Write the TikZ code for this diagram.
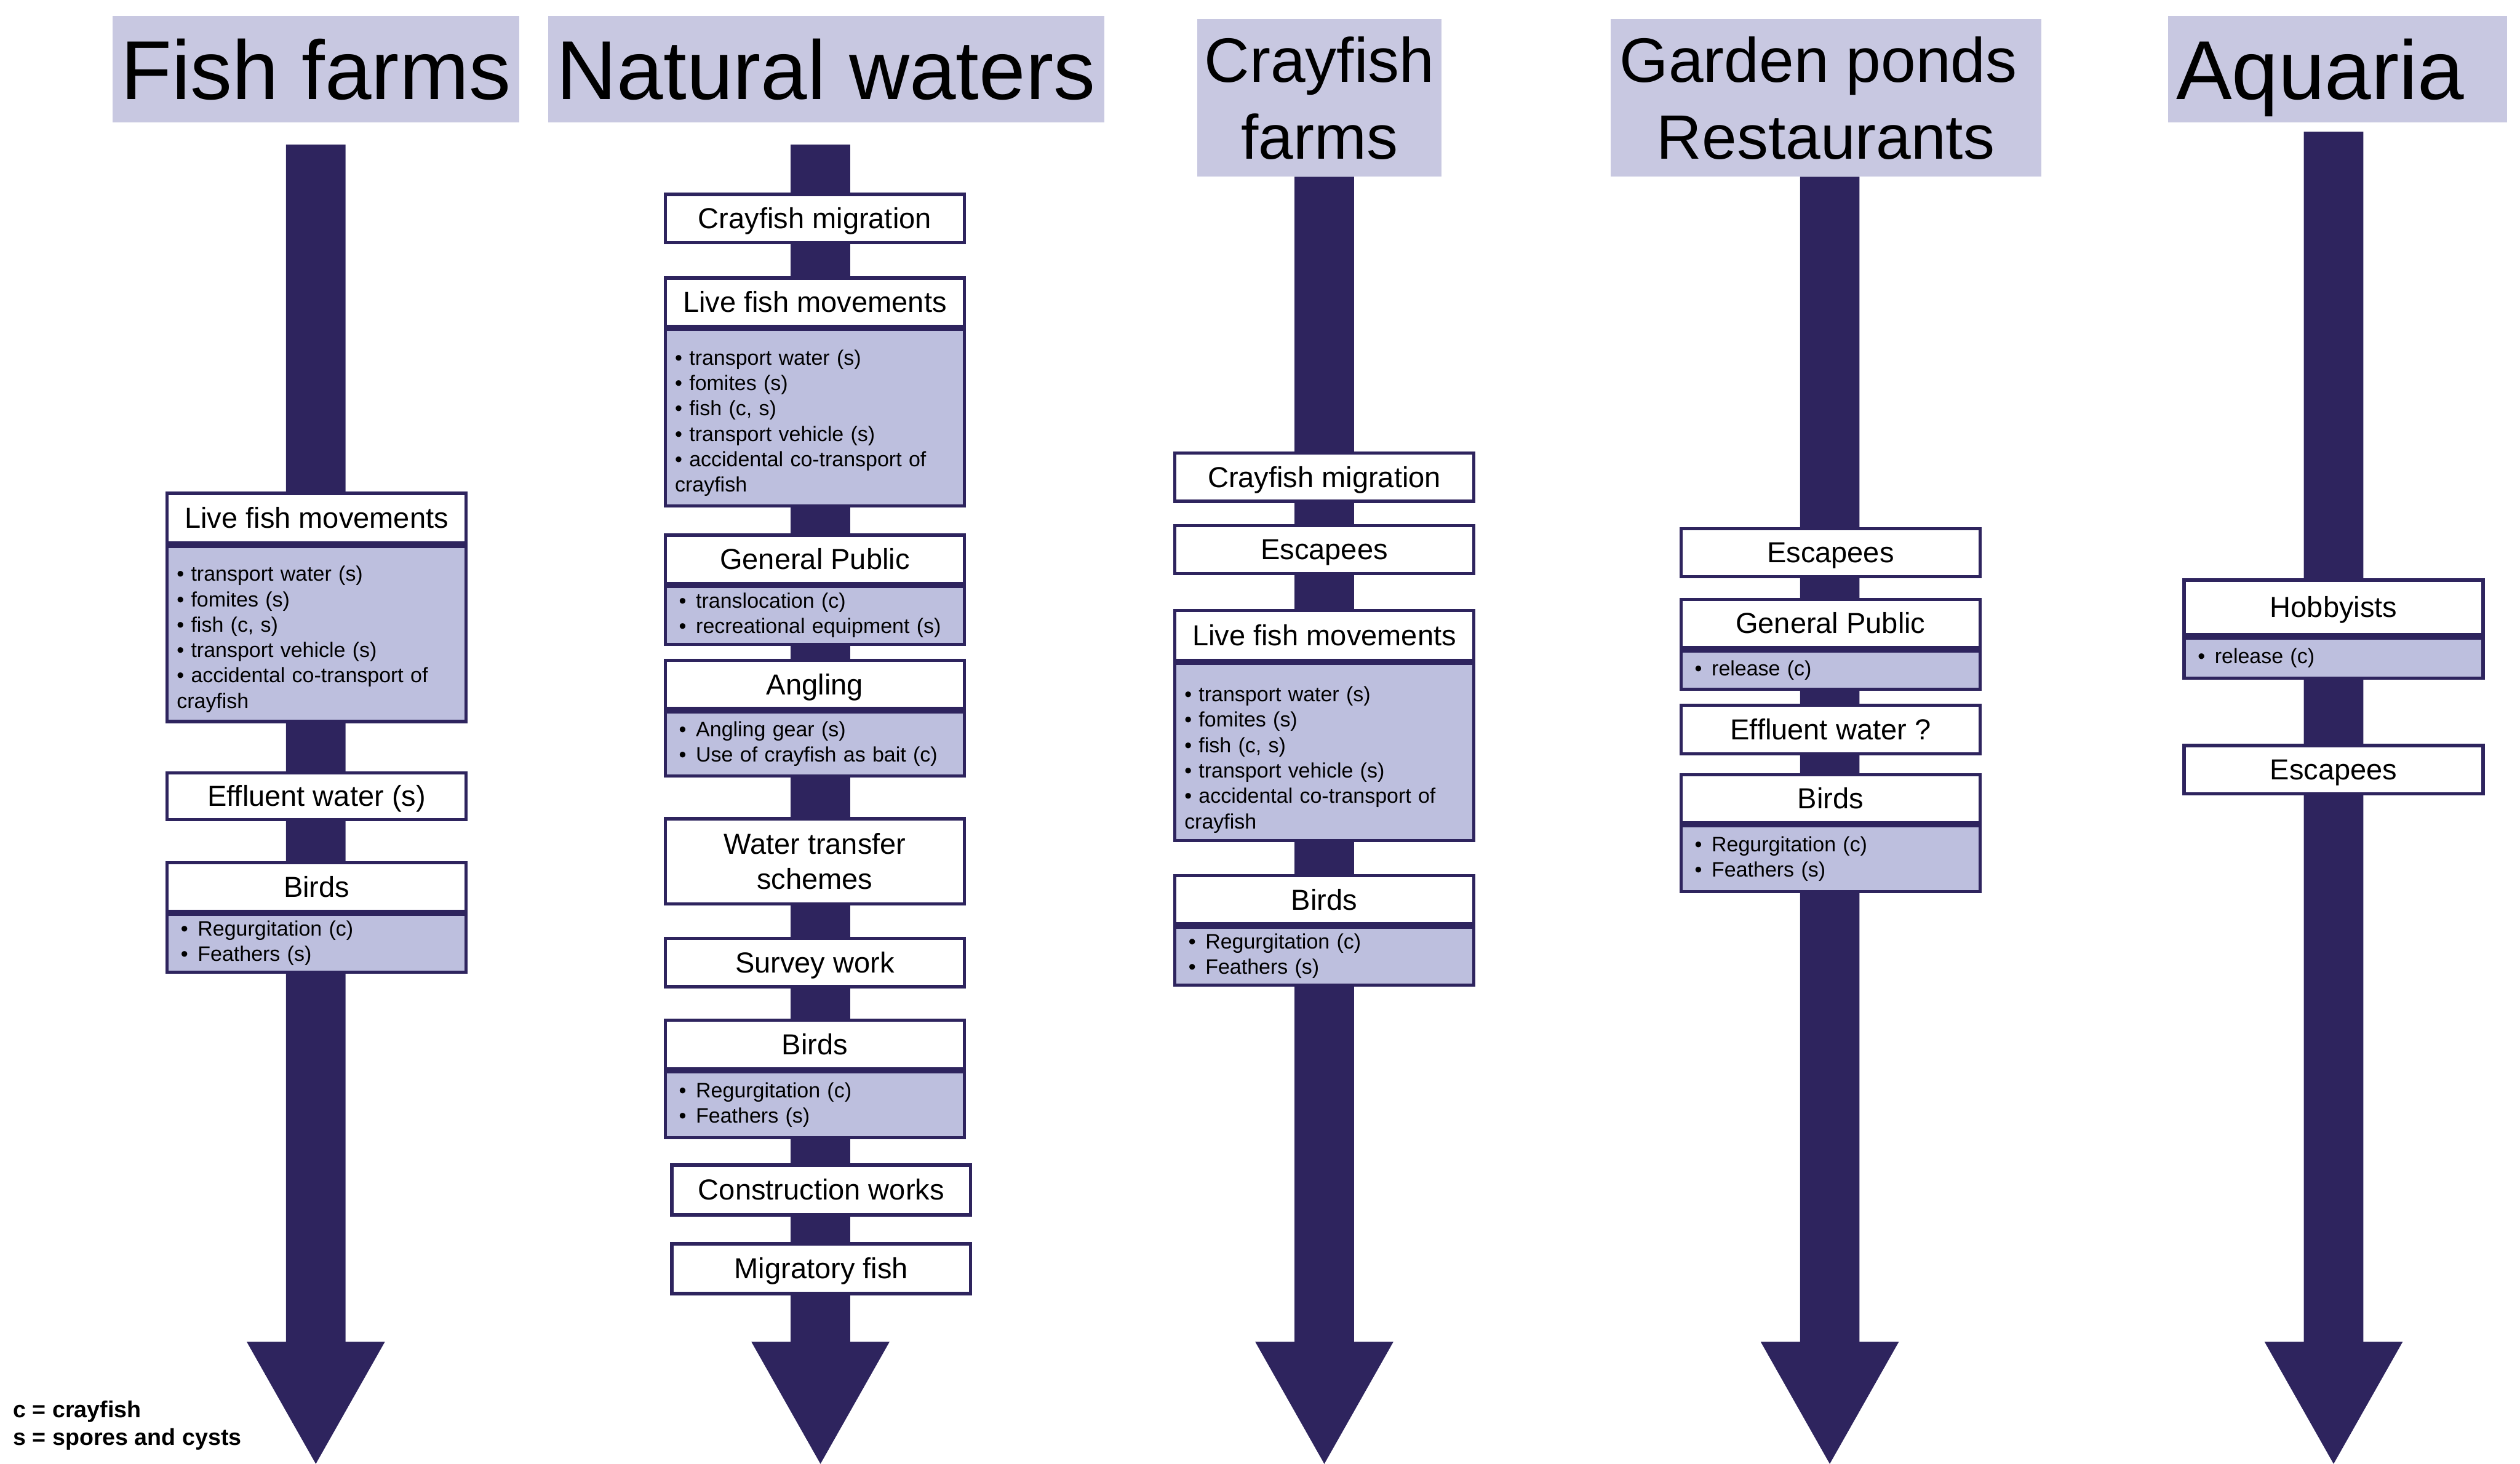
\documentclass[tikz,border=0pt]{standalone}
\usepackage{fontspec}
\setmainfont{Liberation Sans}
\usetikzlibrary{calc}
\definecolor{dk}{RGB}{46,36,94}
\definecolor{hdr}{RGB}{200,200,225}
\definecolor{subf}{RGB}{189,191,222}
\newcommand{\bu}{•\ }
\newcommand{\bi}{\hspace*{2.5pt}•\hspace{6pt}}
\newcommand{\topstrut}{\rule{0pt}{16pt}}
\newcommand{\bigarr}[3]{%
  \coordinate (#3top) at (#1,#2);
  \coordinate (#3tip) at (#1,911);
  \fill[dk] ($(#3top)+(-18.5,0)$) -- ($(#3top)+(18.5,0)$) -- ($(#3tip)+(18.5,-76)$) -- ($(#3tip)+(43,-76)$) -- (#3tip) -- ($(#3tip)+(-43,-76)$) -- ($(#3tip)+(-18.5,-76)$) -- cycle;}
\begin{document}
\begin{tikzpicture}[x=1pt,y=-1pt,
  hdrbox/.style={fill=hdr, inner sep=0pt, text=black, align=center},
  bighdr/.style={hdrbox, font=\fontsize{52}{60}\selectfont, minimum height=66pt, text height=38pt, text depth=0pt},
  twohdr/.style={hdrbox, font=\fontsize{39}{48}\selectfont, minimum height=98pt},
  ttlbase/.style={draw=dk, line width=2pt, fill=white, minimum width=186pt, inner sep=0pt, font=\fontsize{18}{22}\selectfont, align=center},
  ttl/.style={ttlbase, text height=16.3pt, text depth=3.8pt},
  subbox/.style={draw=dk, line width=2pt, fill=subf, minimum width=186pt, text width=174pt, inner xsep=6pt, inner ysep=0pt, anchor=north, font=\fontsize{13}{15.8}\selectfont, align=left},
]
\useasboundingbox (0,0) rectangle (1568,911);
\fill[white] (0,0) rectangle (1568,911);

% headers
\node[bighdr, minimum width=253pt] (h1) at (196.5,43) {Fish farms};
\node[bighdr, minimum width=346pt] (h2) at (514,43) {Natural waters};
\node[twohdr, minimum width=152pt] (h3) at (821,61) {Crayfish\\farms};
\node[twohdr, minimum width=268pt] (h4) at (1136,61) {Garden ponds\hspace*{9pt}\\Restaurants};
\node[bighdr, minimum width=211pt, text width=201pt, inner xsep=5pt, align=left] (h5) at (1454.5,43) {Aquaria};

% big arrows
\bigarr{196.5}{90}{ar1}
\bigarr{510.5}{90}{ar2}
\bigarr{824}{110}{ar3}
\bigarr{1138.5}{110}{ar4}
\bigarr{1452}{82}{ar5}

% column 1: fish farms
\node[ttl, minimum height=31pt] (f1) at (197,322.5) {Live fish movements};
\node[subbox, minimum height=109pt] (f1s) at (f1.south) {\topstrut\bu transport water (s)\\\bu fomites (s)\\\bu fish (c, s)\\\bu transport vehicle (s)\\\bu accidental co-transport of\\crayfish};
\node[ttl, minimum height=29pt] (f2) at (197,495.5) {Effluent water (s)};
\node[ttl, minimum height=30pt] (f3) at (197,552) {Birds};
\node[subbox, minimum height=36pt] (f3s) at (f3.south) {\bi Regurgitation (c)\\\bi Feathers (s)};

% column 2: natural waters
\node[ttl, minimum height=30pt] (n1) at (507,136) {Crayfish migration};
\node[ttl, minimum height=30pt] (n2) at (507,188) {Live fish movements};
\node[subbox, minimum height=110pt] (n2s) at (n2.south) {\topstrut\bu transport water (s)\\\bu fomites (s)\\\bu fish (c, s)\\\bu transport vehicle (s)\\\bu accidental co-transport of\\crayfish};
\node[ttl, minimum height=30pt] (n3) at (507,348) {General Public};
\node[subbox, minimum height=36pt] (n3s) at (n3.south) {\bi translocation (c)\\\bi recreational equipment (s)};
\node[ttl, minimum height=30pt] (n4) at (507,426) {Angling};
\node[subbox, minimum height=40pt] (n4s) at (n4.south) {\bi Angling gear (s)\\\bi Use of crayfish as bait (c)};
\node[ttlbase, minimum height=53pt] (n5) at (507,536) {Water transfer\\schemes};
\node[ttl, minimum height=30pt] (n6) at (507,599) {Survey work};
\node[ttl, minimum height=30pt] (n7) at (507,650) {Birds};
\node[subbox, minimum height=41pt] (n7s) at (n7.south) {\bi Regurgitation (c)\\\bi Feathers (s)};
\node[ttl, minimum height=31pt] (n8) at (511,740.5) {Construction works};
\node[ttl, minimum height=31pt] (n9) at (511,789.5) {Migratory fish};

% column 3: crayfish farms
\node[ttl, minimum height=30pt] (c1) at (824,297) {Crayfish migration};
\node[ttl, minimum height=30pt] (c2) at (824,342) {Escapees};
\node[ttl, minimum height=31pt] (c3) at (824,395.5) {Live fish movements};
\node[subbox, minimum height=110pt] (c3s) at (c3.south) {\rule{0pt}{19pt}\bu transport water (s)\\\bu fomites (s)\\\bu fish (c, s)\\\bu transport vehicle (s)\\\bu accidental co-transport of\\crayfish};
\node[ttl, minimum height=30pt] (c4) at (824,560) {Birds};
\node[subbox, minimum height=36pt] (c4s) at (c4.south) {\bi Regurgitation (c)\\\bi Feathers (s)};

% column 4: garden ponds
\node[ttl, minimum height=30pt] (g1) at (1139,344) {Escapees};
\node[ttl, minimum height=30pt] (g2) at (1139,388) {General Public};
\node[subbox, minimum height=24pt] (g2s) at (g2.south) {\bi release (c)};
\node[ttl, minimum height=30pt] (g3) at (1139,454) {Effluent water ?};
\node[ttl, minimum height=30pt] (g4) at (1139,497) {Birds};
\node[subbox, minimum height=41pt] (g4s) at (g4.south) {\bi Regurgitation (c)\\\bi Feathers (s)};

% column 5: aquaria
\node[ttl, minimum height=34pt] (q1) at (1452,378) {Hobbyists};
\node[subbox, minimum height=25pt] (q1s) at (q1.south) {\bi release (c)};
\node[ttl, minimum height=30pt] (q2) at (1452,479) {Escapees};

% legend
\node[anchor=west, inner sep=0pt, align=left, font=\bfseries\fontsize{14.4}{17}\selectfont] (leg) at (8,887) {c = crayfish\\s = spores and cysts};
\end{tikzpicture}
\end{document}
